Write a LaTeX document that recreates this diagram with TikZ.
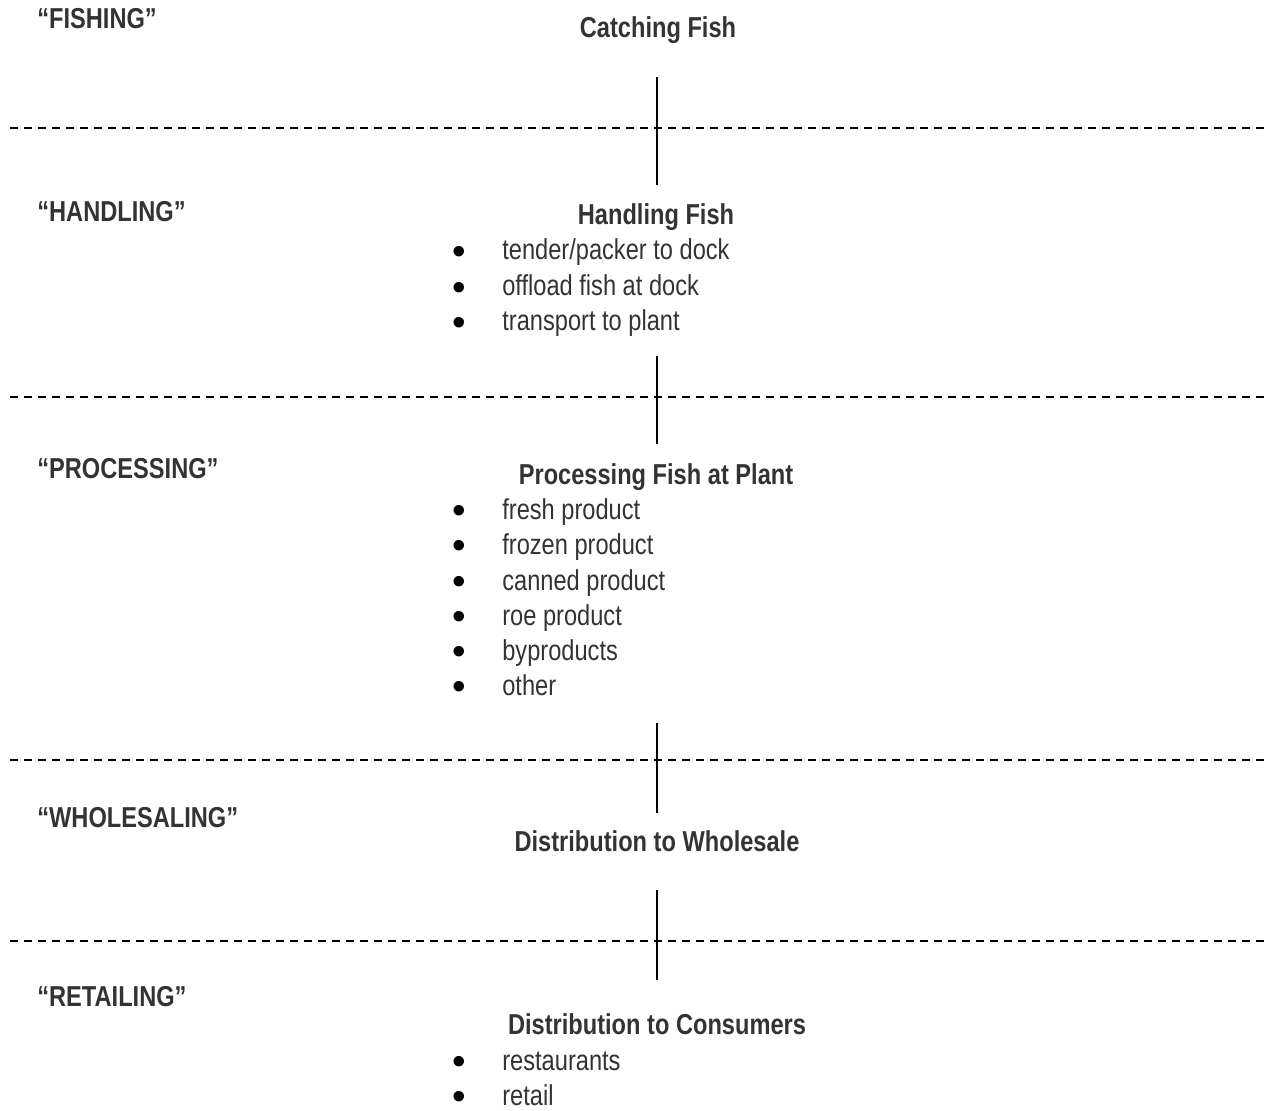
\documentclass[tikz,border=0pt]{standalone}
\usepackage{fontspec}
\setmainfont{Liberation Sans}[FakeStretch=0.82]
\newfontfamily\bulletfont{Liberation Sans}
\usepackage{xcolor}
\usepackage{tikz}
\usetikzlibrary{positioning}

\definecolor{inkgray}{HTML}{333333}
\newcommand{\dotmark}{\llap{\smash{\raisebox{-2.6pt}{\bulletfont\fontsize{22}{22}\selectfont\textcolor{black}{•}}}\hspace{20.4pt}}}

\tikzset{
    stage/.style={anchor=base west, inner sep=0pt, font=\fontsize{16.4}{19}\selectfont\bfseries, text=inkgray},
    title/.style={anchor=base, inner sep=0pt, font=\fontsize{16.4}{19}\selectfont\bfseries, text=inkgray},
    item/.style={anchor=base west, inner sep=0pt, font=\fontsize{16.4}{19}\selectfont, text=inkgray},
    divider/.style={dashed, dash pattern=on 0.17cm off 0.11cm, line width=0.8pt},
    link/.style={line width=1.1pt}
}

\begin{document}
\begin{tikzpicture}[x=0.02cm, y=-0.02cm]

    \useasboundingbox (0,0) rectangle (1264,1111);

    % Stage labels
    \node[stage] (fishing) at (37,29) {“FISHING”};
    \node[stage] (handling) at (37,222) {“HANDLING”};
    \node[stage] (processing) at (37,478) {“PROCESSING”};
    \node[stage] (wholesaling) at (37,827) {“WHOLESALING”};
    \node[stage] (retailing) at (37,1006) {“RETAILING”};

    % Catching
    \node[title] (catch) at (658,38) {Catching Fish};

    % Handling
    \node[title] (handle) at (656,225) {Handling Fish};
    \node[item] (h1) at (502,260) {\dotmark tender/packer to dock};
    \node[item] (h2) at (502,296) {\dotmark offload fish at dock};
    \node[item] (h3) at (502,331) {\dotmark transport to plant};

    % Processing
    \node[title] (process) at (656,484) {Processing Fish at Plant};
    \node[item] (p1) at (502,519) {\dotmark fresh product};
    \node[item] (p2) at (502,554) {\dotmark frozen product};
    \node[item] (p3) at (502,590) {\dotmark canned product};
    \node[item] (p4) at (502,625) {\dotmark roe product};
    \node[item] (p5) at (502,660) {\dotmark byproducts};
    \node[item] (p6) at (502,695) {\dotmark other};

    % Wholesale
    \node[title] (wholesale) at (657,851) {Distribution to Wholesale};

    % Retail
    \node[title] (consumer) at (657,1034) {Distribution to Consumers};
    \node[item] (r1) at (502,1070) {\dotmark restaurants};
    \node[item] (r2) at (502,1105) {\dotmark retail};

    % Dividers between stages
    \coordinate (d1w) at (10,128);   \coordinate (d1e) at (1264,128);
    \coordinate (d2w) at (10,397);   \coordinate (d2e) at (1264,397);
    \coordinate (d3w) at (10,760);   \coordinate (d3e) at (1264,760);
    \coordinate (d4w) at (10,941);   \coordinate (d4e) at (1264,941);
    \draw[divider] (d1w) -- (d1e);
    \draw[divider] (d2w) -- (d2e);
    \draw[divider] (d3w) -- (d3e);
    \draw[divider] (d4w) -- (d4e);

    % Links across dividers
    \coordinate (l1t) at (657,77);   \coordinate (l1b) at (657,185);
    \coordinate (l2t) at (657,356);  \coordinate (l2b) at (657,444);
    \coordinate (l3t) at (657,723);  \coordinate (l3b) at (657,813);
    \coordinate (l4t) at (657,890);  \coordinate (l4b) at (657,980);
    \draw[link] (l1t) -- (l1b);
    \draw[link] (l2t) -- (l2b);
    \draw[link] (l3t) -- (l3b);
    \draw[link] (l4t) -- (l4b);

\end{tikzpicture}
\end{document}
